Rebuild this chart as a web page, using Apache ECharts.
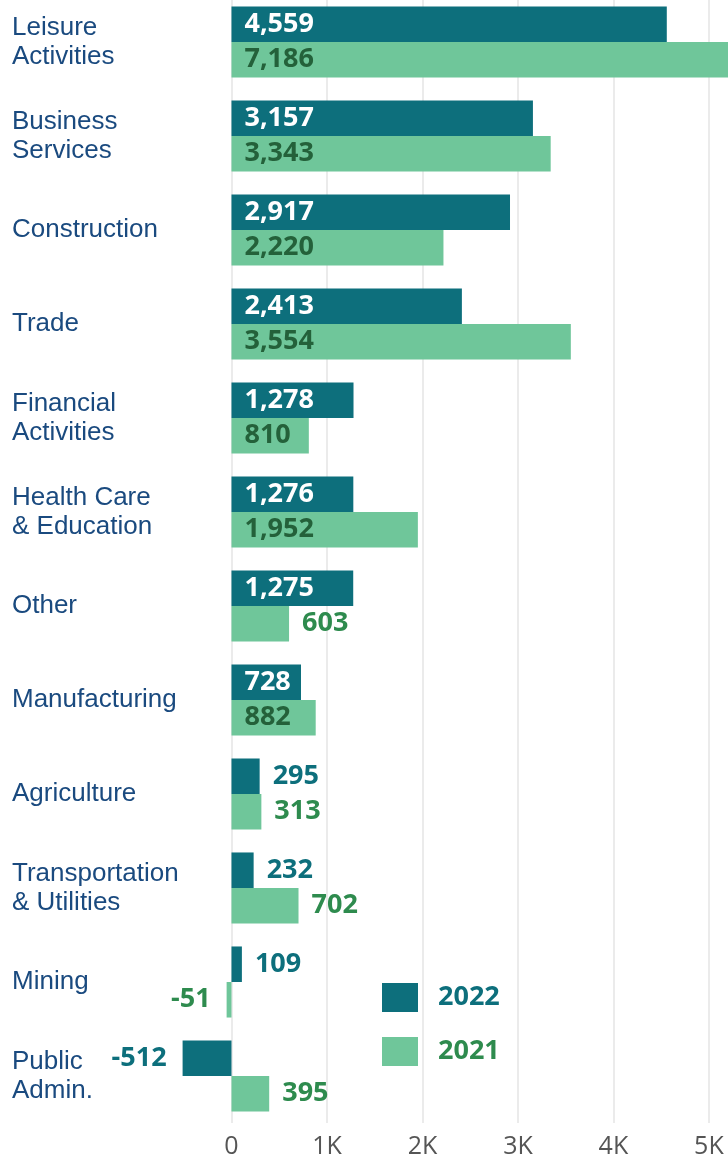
<!DOCTYPE html>
<html>
<head>
<meta charset="utf-8">
<script src="https://cdn.jsdelivr.net/npm/echarts@6/dist/echarts.min.js"></script>
<style>
  html, body { margin: 0; padding: 0; background: #fff; }
  #chart { width: 728px; height: 1158px; }
</style>
</head>
<body>
<div id="chart"></div>
<script>
const categories = [
  'Leisure\nActivities', 'Business\nServices', 'Construction', 'Trade',
  'Financial\nActivities', 'Health Care\n& Education', 'Other', 'Manufacturing',
  'Agriculture', 'Transportation\n& Utilities', 'Mining', 'Public\nAdmin.'
]
const values2022 = [4559, 3157, 2917, 2413, 1278, 1276, 1275, 728, 295, 232, 109, -512]
const values2021 = [7186, 3343, 2220, 3554, 810, 1952, 603, 882, 313, 702, -51, 395]
const tickLabels = { 0: '0', 1000: '1K', 2000: '2K', 3000: '3K', 4000: '4K', 5000: '5K' }

const teal = '#0d6f7c'
const green = '#6fc69a'
const greenText = '#2e8b4e'
const greenInner = '#24613a'

// labels go inside the bar when it is long enough, otherwise beside it
function makeData (values, outColor, inColor) {
  return values.map(v => {
    let label
    if (v >= 720) {
      label = { position: 'insideLeft', distance: 13, color: inColor }
    } else if (v < 0) {
      label = { position: 'left', distance: 16, color: outColor }
    } else {
      label = { position: 'right', distance: 13, color: outColor }
    }
    return { value: v, label }
  })
}

const labelFont = {
  show: true,
  fontFamily: 'Open Sans',
  fontWeight: 'bold',
  fontSize: 27,
  formatter: p => p.value.toLocaleString('en-US')
}

const chart = echarts.init(document.getElementById('chart'))
chart.setOption({
  animation: false,
  grid: { left: 136, right: 0, top: -5, bottom: 35, outerBoundsMode: 'none' },
  legend: {
    orient: 'vertical',
    left: 377,
    top: 978,
    icon: 'rect',
    itemWidth: 36,
    itemHeight: 29,
    itemGap: 25,
    data: [
      { name: '2022', textStyle: { color: teal } },
      { name: '2021', textStyle: { color: greenText } }
    ],
    textStyle: { fontFamily: 'Open Sans', fontWeight: 'bold', fontSize: 27, padding: [0, 0, 0, 15] }
  },
  xAxis: {
    type: 'value',
    min: -1000,
    max: 5200,
    interval: 1000,
    axisLine: { show: false },
    axisTick: { show: false },
    axisLabel: {
      color: '#555',
      fontFamily: 'Open Sans',
      fontSize: 25,
      margin: 11,
      formatter: v => tickLabels[v] !== undefined ? tickLabels[v] : ''
    },
    splitLine: {
      show: true,
      showMinLine: false,
      showMaxLine: false,
      lineStyle: { color: '#e4e4e4', width: 1.5 }
    }
  },
  yAxis: {
    type: 'category',
    inverse: true,
    data: categories,
    axisLine: { show: false },
    axisTick: { show: false },
    axisLabel: {
      align: 'left',
      margin: 124,
      color: '#1a4a7f',
      fontFamily: 'Liberation Sans',
      fontSize: 26,
      lineHeight: 29
    }
  },
  series: [
    {
      name: '2022',
      type: 'bar',
      data: makeData(values2022, teal, '#fff'),
      itemStyle: { color: teal },
      barGap: '0%',
      barCategoryGap: '24.4%',
      label: labelFont
    },
    {
      name: '2021',
      type: 'bar',
      data: makeData(values2021, greenText, greenInner),
      itemStyle: { color: green },
      label: labelFont
    }
  ]
})
</script>
</body>
</html>
